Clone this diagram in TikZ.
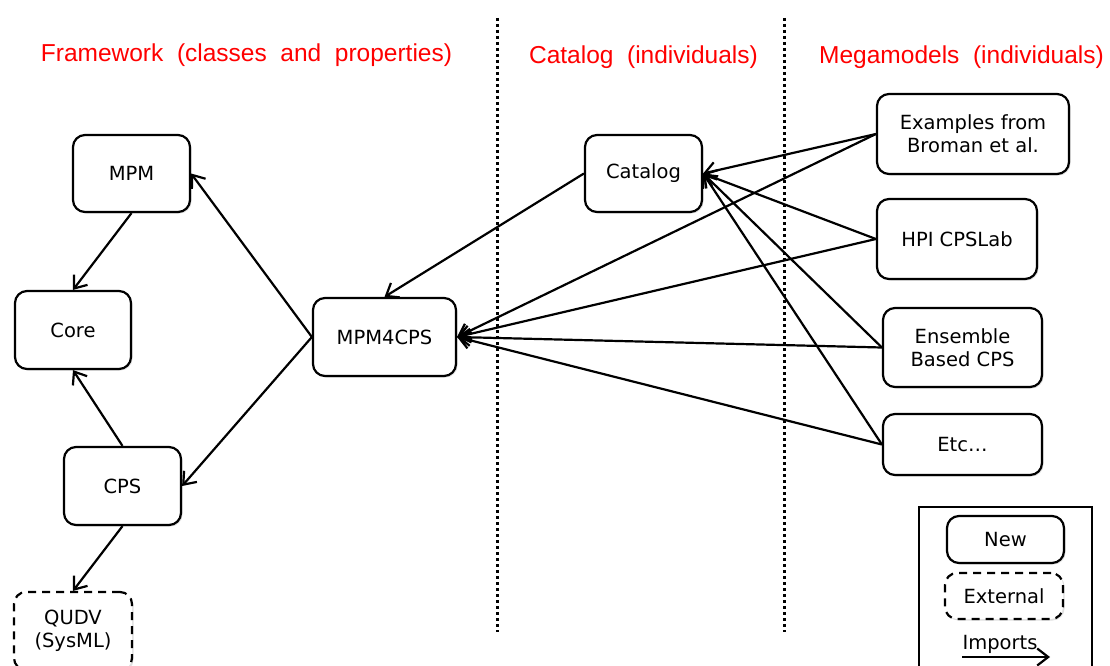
\documentclass[tikz,border=0pt]{standalone}
\usepackage{fontspec}
\setmainfont{DejaVu Sans}
\newfontfamily\titlefont{Liberation Sans}
\usetikzlibrary{arrows.meta,shadows}
\definecolor{titlered}{RGB}{255,0,0}
\tikzset{
  box/.style={draw, line width=2.2pt, rounded corners=12pt, fill=white, inner sep=0pt,
    align=center, font=\fontsize{19.5}{23}\selectfont,
    drop shadow={opacity=0.25, shadow xshift=1.5pt, shadow yshift=-1.5pt}},
  extbox/.style={box, dash pattern=on 8pt off 6pt},
  imp/.style={line width=2.2pt, -{Straight Barb[length=11pt,width=17pt,line width=2.2pt]}},
  sep/.style={line width=3pt, dash pattern=on 3pt off 3pt},
  ttl/.style={text=titlered, font=\titlefont\fontsize{24.5}{28}\selectfont, inner sep=0pt},
  lbl/.style={font=\fontsize{19.5}{23}\selectfont, inner sep=0pt}
}
\begin{document}
\begin{tikzpicture}[x=1pt,y=-1pt]
\useasboundingbox (0,0) rectangle (1110,666);
\clip (0,0) rectangle (1110,666);
% titles
\node[ttl] (t1) at (246.5,55) {Framework\ \ (classes\ \ and\ \ properties)};
\node[ttl] (t2) at (643.5,57) {Catalog\ \ (individuals)};
\node[ttl] (t3) at (961.5,57) {Megamodels\ \ (individuals)};
% separators
\coordinate (s1a) at (497,18); \coordinate (s1b) at (497,632);
\coordinate (s2a) at (784,18); \coordinate (s2b) at (784,632);
\draw[sep] (s1a) -- (s1b);
\draw[sep] (s2a) -- (s2b);
% framework
\node[box, minimum width=117pt, minimum height=77pt] (mpm) at (131.5,173.5) {MPM};
\node[box, minimum width=116pt, minimum height=78pt] (core) at (73,330) {Core};
\node[box, minimum width=117pt, minimum height=78pt] (cps) at (122.5,486) {CPS};
\node[extbox, minimum width=118pt, minimum height=78pt] (qudv) at (73,631) {QUDV\\(SysML)};
\node[box, minimum width=143pt, minimum height=78pt] (mpm4cps) at (384.5,337) {MPM4CPS};
% catalog
\node[box, minimum width=117pt, minimum height=77pt] (catalog) at (643.5,173.5) {Catalog};
% megamodels
\node[box, minimum width=192pt, minimum height=80pt] (broman) at (973,134) {Examples from\\Broman et al.};
\node[box, minimum width=160pt, minimum height=80pt] (hpi) at (957,239) {HPI CPSLab};
\node[box, minimum width=159pt, minimum height=79pt] (ens) at (962.5,347.5) {Ensemble\\Based CPS};
\node[box, minimum width=159pt, minimum height=61pt] (etc) at (962.5,444.5) {Etc\dots};
% connectors
\draw[imp] (mpm.south) -- (core.north);
\draw[imp] (cps.north) -- (core.south);
\draw[imp] (cps.south) -- (qudv.north);
\draw[imp] (mpm4cps.west) -- (mpm.east);
\draw[imp] (mpm4cps.west) -- (cps.east);
\draw[imp] (catalog.west) -- (mpm4cps.north);
\foreach \n in {broman,hpi,ens,etc}{
  \draw[imp] (\n.west) -- (catalog.east);
  \draw[imp] (\n.west) -- (mpm4cps.east);
}
% legend
\node[draw, line width=1.5pt, minimum width=173pt, minimum height=173pt, inner sep=0pt] (legend) at (1005.5,593.5) {};
\node[box, minimum width=117pt, minimum height=47pt] (new) at (1005.5,539.5) {New};
\node[extbox, minimum width=118pt, minimum height=46pt] (ext) at (1004,596) {External};
\node[lbl] (imports) at (1000,644) {Imports};
\coordinate (ia) at (962,657); \coordinate (ib) at (1050,657);
\draw[imp] (ia) -- (ib);
\end{tikzpicture}
\end{document}
